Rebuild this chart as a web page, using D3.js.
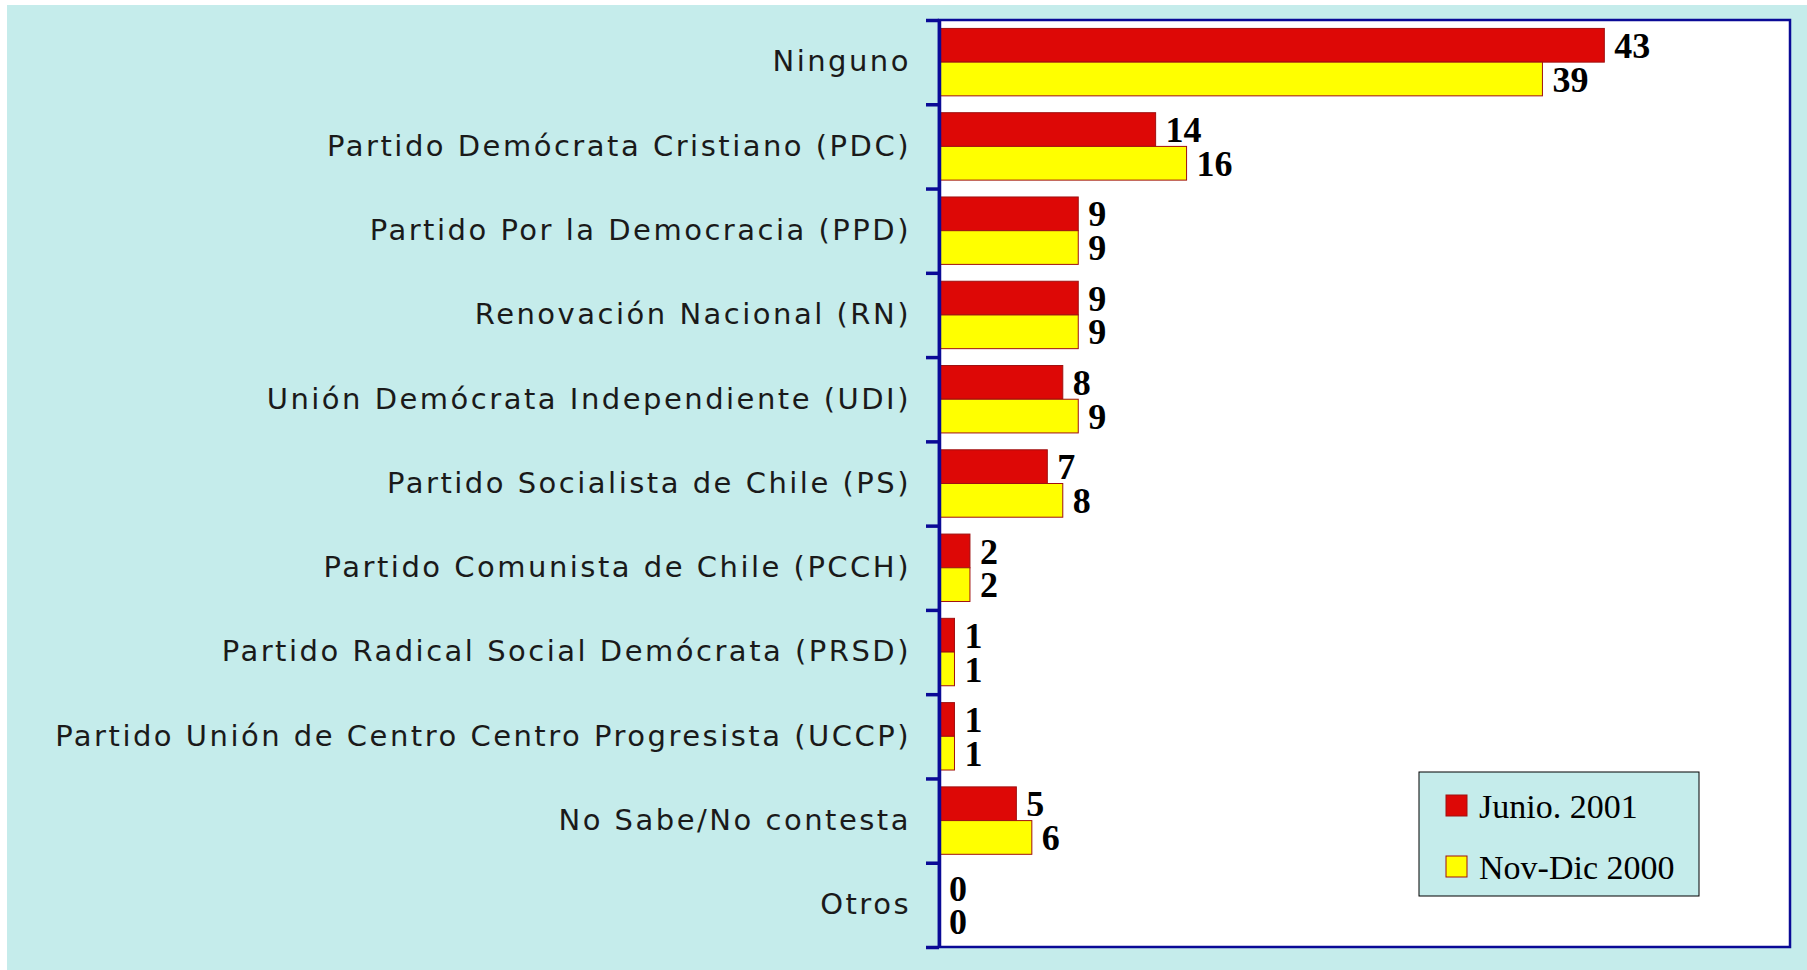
<!DOCTYPE html>
<html>
<head>
<meta charset="utf-8">
<script src="https://cdn.jsdelivr.net/npm/d3@7"></script>
<style>
    body { margin: 0; background: #ffffff; }
    .cat text { font-family: 'DejaVu Sans', sans-serif; font-size: 29px; fill: #1a1a1a; letter-spacing: 2.5px; }
    .val { font-family: 'Liberation Serif', 'Times New Roman', serif; font-weight: bold; font-size: 36px; fill: #000; }
    .leg { font-family: 'Liberation Serif', 'Times New Roman', serif; font-size: 34px; fill: #000; }
</style>
</head>
<body>
<div id="vis"></div>
<script>
// categories top to bottom
var categories = [
    'Ninguno',
    'Partido Demócrata Cristiano (PDC)',
    'Partido Por la Democracia (PPD)',
    'Renovación Nacional (RN)',
    'Unión Demócrata Independiente (UDI)',
    'Partido Socialista de Chile (PS)',
    'Partido Comunista de Chile (PCCH)',
    'Partido Radical Social Demócrata (PRSD)',
    'Partido Unión de Centro Centro Progresista (UCCP)',
    'No Sabe/No contesta',
    'Otros'
];
var junio2001 = [43, 14, 9, 9, 8, 7, 2, 1, 1, 5, 0];
var novDic2000 = [39, 16, 9, 9, 9, 8, 2, 1, 1, 6, 0];
var seriesNames = ['Junio. 2001', 'Nov-Dic 2000'];
var seriesColors = ['#dd0806', '#ffff00'];
var xMax = 55;

var width = 1807, height = 970;
var margin = { left: 939, top: 20, right: 17, bottom: 23 };
var drawWidth = width - margin.left - margin.right;
var drawHeight = height - margin.top - margin.bottom;

var svg = d3.select('#vis').append('svg')
    .attr('width', width)
    .attr('height', height);

// cyan panel
svg.append('rect')
    .attr('x', 7).attr('y', 5)
    .attr('width', width - 7).attr('height', height - 5)
    .attr('fill', '#c5eceb');

var g = svg.append('g')
    .attr('transform', 'translate(' + margin.left + ',' + margin.top + ')');

// plot area
g.append('rect')
    .attr('width', drawWidth).attr('height', drawHeight)
    .attr('fill', '#ffffff')
    .attr('stroke', '#0a0a96')
    .attr('stroke-width', 2.5);

var yScale = d3.scaleBand()
    .domain(categories)
    .range([0, drawHeight])
    .paddingInner(0.2)
    .paddingOuter(0.1);

var xScale = d3.scaleLinear()
    .domain([0, xMax])
    .range([0, drawWidth]);

var barH = yScale.bandwidth() / 2;

// bars, one group per series
[junio2001, novDic2000].forEach(function(values, s) {
    var rows = categories.map(function(c, i) { return { cat: c, v: values[i] }; });
    g.selectAll('rect.bar' + s)
        .data(rows.filter(function(d) { return d.v > 0; }))
        .enter().append('rect')
        .attr('class', 'bar' + s)
        .attr('x', 0)
        .attr('y', function(d) { return yScale(d.cat) + s * barH; })
        .attr('width', function(d) { return xScale(d.v); })
        .attr('height', barH)
        .attr('fill', seriesColors[s])
        .attr('stroke', '#a01010')
        .attr('stroke-width', 1);

    g.selectAll('text.val' + s)
        .data(rows)
        .enter().append('text')
        .attr('class', 'val')
        .attr('x', function(d) { return xScale(d.v) + 10; })
        .attr('y', function(d) { return yScale(d.cat) + s * barH + barH / 2; })
        .attr('dy', '0.35em')
        .text(function(d) { return d.v; });
});

// left axis line with ticks at category boundaries
var bScale = d3.scaleLinear().domain([0, categories.length]).range([0, drawHeight]);
var tickAxis = g.append('g')
    .call(d3.axisLeft(bScale)
        .tickValues(d3.range(categories.length + 1))
        .tickFormat('')
        .tickSizeInner(13)
        .tickSizeOuter(0));
tickAxis.selectAll('line, path')
    .attr('stroke', '#0a0a96')
    .attr('stroke-width', 3.5);

// category labels
var catAxis = g.append('g')
    .attr('class', 'cat')
    .call(d3.axisLeft(yScale).tickSize(0).tickPadding(28));
catAxis.select('.domain').remove();
catAxis.selectAll('text').attr('font-family', null).attr('font-size', null);

// legend
var legend = svg.append('g').attr('transform', 'translate(1419,772)');
legend.append('rect')
    .attr('width', 280).attr('height', 124)
    .attr('fill', '#c5eceb')
    .attr('stroke', '#000')
    .attr('stroke-width', 1);
seriesNames.forEach(function(name, i) {
    var row = legend.append('g').attr('transform', 'translate(27,' + (23 + i * 61) + ')');
    row.append('rect')
        .attr('width', 21).attr('height', 21)
        .attr('fill', seriesColors[i])
        .attr('stroke', '#a01010');
    row.append('text')
        .attr('class', 'leg')
        .attr('x', 33).attr('y', 11)
        .attr('dy', '0.35em')
        .text(name);
});
</script>
</body>
</html>
